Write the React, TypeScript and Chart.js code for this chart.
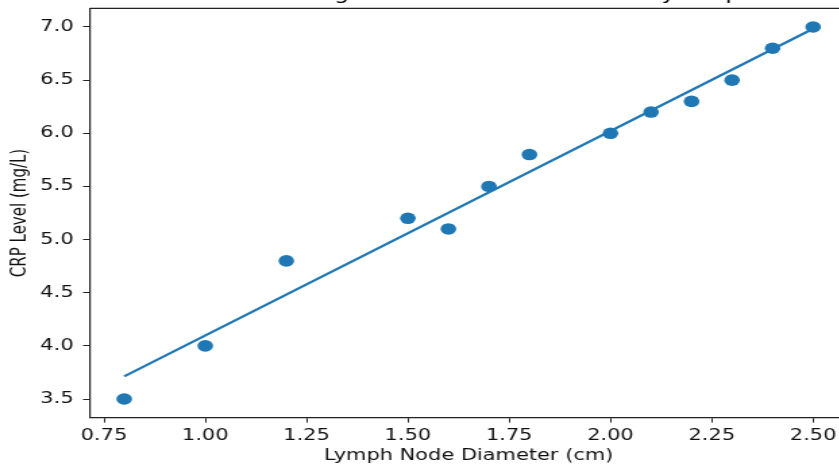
import React, { useEffect, useRef } from "react";
import { Chart, registerables } from "chart.js";

Chart.register(...registerables);

const diameters = [0.8, 1.0, 1.2, 1.5, 1.6, 1.7, 1.8, 2.0, 2.1, 2.2, 2.3, 2.4, 2.5];
const crpLevels = [3.5, 4.0, 4.8, 5.2, 5.1, 5.5, 5.8, 6.0, 6.2, 6.3, 6.5, 6.8, 7.0];
const xTickValues = [0.75, 1.0, 1.25, 1.5, 1.75, 2.0, 2.25, 2.5];
const yTickValues = [3.5, 4.0, 4.5, 5.0, 5.5, 6.0, 6.5, 7.0];
const titleText = "CRP Level Among Patients with Inflammatory Response";
const xLabel = "Lymph Node Diameter (cm)";
const yLabel = "CRP Level (mg/L)";

const SCALE_X = 1.35;
const W = 640;
const H = 490;
const FONT = "'DejaVu Sans', sans-serif";
const BLUE = "#1f77b4";
const INK = "#222";

function fitLine(xs: number[], ys: number[]) {
  const n = xs.length;
  const mx = xs.reduce((a, b) => a + b, 0) / n;
  const my = ys.reduce((a, b) => a + b, 0) / n;
  let sxx = 0;
  let sxy = 0;
  for (let i = 0; i < n; i++) {
    sxx += (xs[i] - mx) ** 2;
    sxy += (xs[i] - mx) * (ys[i] - my);
  }
  const slope = sxy / sxx;
  const intercept = my - slope * mx;
  const x0 = Math.min(...xs);
  const x1 = Math.max(...xs);
  return [
    { x: x0, y: intercept + slope * x0 },
    { x: x1, y: intercept + slope * x1 },
  ];
}

const framePlugin = {
  id: "frame",
  afterDraw(chart: any) {
    const { ctx, chartArea } = chart;
    ctx.save();
    ctx.strokeStyle = INK;
    ctx.lineWidth = 1.2;
    ctx.beginPath();
    ctx.moveTo(chartArea.left, chartArea.top);
    ctx.lineTo(chartArea.right, chartArea.top);
    ctx.lineTo(chartArea.right, chartArea.bottom);
    ctx.stroke();
    ctx.restore();
  },
};

export default function App() {
  const ref = useRef<HTMLCanvasElement | null>(null);

  useEffect(() => {
    document.body.style.overflow = "hidden";
    const canvas = ref.current;
    if (!canvas) return;
    const points = diameters.map((x, i) => ({ x, y: crpLevels[i] }));
    const chart = new Chart(canvas, {
      type: "scatter",
      data: {
        datasets: [
          {
            label: "fit",
            data: fitLine(diameters, crpLevels),
            showLine: true,
            borderColor: BLUE,
            borderWidth: 2.2,
            pointRadius: 0,
            fill: false,
          } as any,
          {
            label: "data",
            data: points,
            backgroundColor: BLUE,
            borderWidth: 0,
            pointRadius: 5.8,
          },
        ],
      },
      options: {
        responsive: false,
        animation: false,
        devicePixelRatio: 1,
        layout: { padding: { left: 0, right: 12.2, top: 0, bottom: 0 } },
        plugins: {
          legend: { display: false },
          tooltip: { enabled: false },
          title: {
            display: true,
            text: titleText,
            fullSize: false,
            color: "#000",
            font: { family: FONT, size: 17.5, weight: "normal" },
            padding: { top: 9, bottom: 3.4 },
          },
        },
        scales: {
          x: {
            type: "linear",
            min: 0.715,
            max: 2.585,
            afterFit: (s: any) => {
              s.height = 47.4;
            },
            afterBuildTicks: (s: any) => {
              s.ticks = xTickValues.map((v) => ({ value: v }));
            },
            ticks: {
              color: "#111",
              font: { family: FONT, size: 15.5 },
              padding: 4,
              maxRotation: 0,
              autoSkip: false,
              callback: (v: any) => Number(v).toFixed(2),
            },
            grid: {
              display: true,
              drawOnChartArea: false,
              drawTicks: true,
              tickLength: 5,
              tickColor: INK,
              tickWidth: 1,
            },
            border: { display: true, color: INK, width: 1.2 },
            title: {
              display: true,
              text: xLabel,
              color: "#111",
              font: { family: FONT, size: 15.5 },
              padding: { top: 0, bottom: 0 },
            },
          },
          y: {
            type: "linear",
            min: 3.325,
            max: 7.175,
            afterFit: (s: any) => {
              s.width = 66.5;
            },
            afterBuildTicks: (s: any) => {
              s.ticks = yTickValues.map((v) => ({ value: v }));
            },
            ticks: {
              color: "#111",
              font: { family: FONT, size: 15.5 },
              padding: 7,
              autoSkip: false,
              callback: (v: any) => Number(v).toFixed(1),
            },
            grid: {
              display: true,
              drawOnChartArea: false,
              drawTicks: true,
              tickLength: 5,
              tickColor: INK,
              tickWidth: 1,
            },
            border: { display: true, color: INK, width: 1.2 },
            title: {
              display: true,
              text: yLabel,
              color: "#111",
              font: { family: FONT, size: 15 },
              padding: { top: 6, bottom: 0 },
            },
          },
        },
      },
      plugins: [framePlugin],
    } as any);
    return () => chart.destroy();
  }, []);

  return (
    <div
      style={{
        position: "fixed",
        left: 0,
        top: -25,
        width: W,
        height: H,
        transform: `scaleX(${SCALE_X})`,
        transformOrigin: "left top",
      }}
    >
      <canvas ref={ref} width={W} height={H} style={{ display: "block", width: W, height: H }} />
    </div>
  );
}
